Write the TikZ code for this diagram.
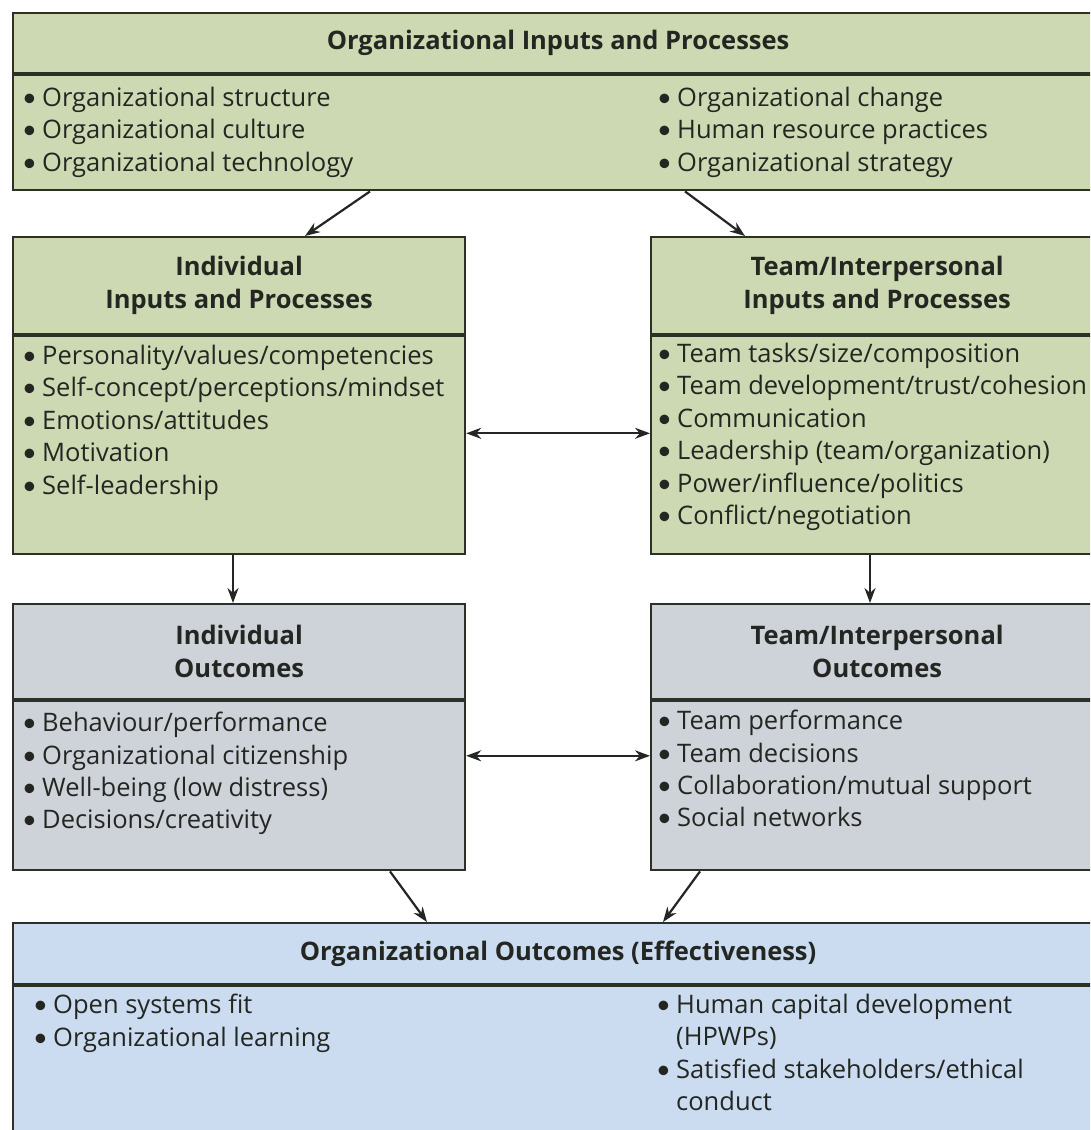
\documentclass[tikz,border=0pt]{standalone}
\usepackage{fontspec}
\setmainfont{Open Sans}
\newfontfamily\bulletfont{Lato}
\usetikzlibrary{arrows.meta}

\definecolor{edge}{HTML}{2B3126}
\definecolor{ink}{HTML}{232621}
\definecolor{inputgreen}{HTML}{CDD9B2}
\definecolor{outgray}{HTML}{CED2D9}
\definecolor{effblue}{HTML}{CBDBF0}

\newcommand{\itm}{\makebox[20pt][l]{\bulletfont\textbullet}}
\newcommand{\hang}{\hspace*{20pt}}

\tikzset{
  head/.style={draw=edge, line width=2.2pt, inner sep=0pt, anchor=north west,
    align=center, text=ink, font=\fontsize{25.5}{33}\selectfont\bfseries},
  body/.style={draw=edge, line width=2.2pt, inner sep=0pt, anchor=north west},
  items/.style={anchor=north west, inner sep=0pt, align=left, text=ink,
    font=\fontsize{25.5}{32.4}\selectfont},
  arr/.style={draw=ink, line width=2.2pt, -{Stealth[length=15pt,width=11pt]}},
  twoway/.style={draw=ink, line width=2.2pt, {Stealth[length=15pt,width=11pt]}-{Stealth[length=15pt,width=11pt]}}
}

\begin{document}
\begin{tikzpicture}[x=1pt, y=-1pt]
  \useasboundingbox (0,0) rectangle (1090,1130);
  \clip (0,0) rectangle (1090,1130);

  \node[head, fill=inputgreen, minimum width=1090pt, minimum height=60pt] (orgHead) at (12,12)
    {Organizational Inputs and Processes};
  \node[body, fill=inputgreen, minimum width=1090pt, minimum height=115pt] (orgBody) at (orgHead.south west) {};
  \node[items] (orgLeft) at (22,87) {\itm Organizational structure\\ \itm Organizational culture\\ \itm Organizational technology};
  \node[items] (orgRight) at (657,87) {\itm Organizational change\\ \itm Human resource practices\\ \itm Organizational strategy};

  \node[head, fill=inputgreen, minimum width=452pt, minimum height=97pt] (indHead) at (12,236)
    {Individual\\ Inputs and Processes};
  \node[body, fill=inputgreen, minimum width=452pt, minimum height=218pt] (indBody) at (indHead.south west) {};
  \node[items] (indList) at (22,345) {\itm Personality/values/competencies\\ \itm Self-concept/perceptions/mindset\\
    \itm Emotions/attitudes\\ \itm Motivation\\ \itm Self-leadership};

  \node[head, fill=inputgreen, minimum width=452pt, minimum height=97pt] (teamHead) at (650,236)
    {Team/Interpersonal\\ Inputs and Processes};
  \node[body, fill=inputgreen, minimum width=452pt, minimum height=218pt] (teamBody) at (teamHead.south west) {};
  \node[items] (teamList) at (657,343) {\itm Team tasks/size/composition\\ \itm Team development/trust/cohesion\\
    \itm Communication\\ \itm Leadership (team/organization)\\ \itm Power/influence/politics\\ \itm Conflict/negotiation};

  \node[head, fill=outgray, minimum width=452pt, minimum height=95pt] (indOutHead) at (12,603)
    {Individual\\ Outcomes};
  \node[body, fill=outgray, minimum width=452pt, minimum height=169pt] (indOutBody) at (indOutHead.south west) {};
  \node[items] (indOutList) at (22,712) {\itm Behaviour/performance\\ \itm Organizational citizenship\\
    \itm Well-being (low distress)\\ \itm Decisions/creativity};

  \node[head, fill=outgray, minimum width=452pt, minimum height=95pt] (teamOutHead) at (650,603)
    {Team/Interpersonal\\ Outcomes};
  \node[body, fill=outgray, minimum width=452pt, minimum height=169pt] (teamOutBody) at (teamOutHead.south west) {};
  \node[items] (teamOutList) at (657,710) {\itm Team performance\\ \itm Team decisions\\
    \itm Collaboration/mutual support\\ \itm Social networks};

  \node[head, fill=effblue, minimum width=1090pt, minimum height=61pt] (effHead) at (12,922)
    {Organizational Outcomes (Effectiveness)};
  \node[body, fill=effblue, minimum width=1090pt, minimum height=180pt] (effBody) at (effHead.south west) {};
  \node[items] (effLeft) at (33,994) {\itm Open systems fit\\ \itm Organizational learning};
  \node[items] (effRight) at (656,994) {\itm Human capital development\\ \hang(HPWPs)\\
    \itm Satisfied stakeholders/ethical\\ \hang conduct};

  \draw[arr] ([xshift=358pt]orgBody.south west) -- ([xshift=293pt]indHead.north west);
  \draw[arr] ([xshift=673pt]orgBody.south west) -- ([xshift=95pt]teamHead.north west);
  \draw[twoway] ([yshift=12pt]indBody.east) -- ([yshift=12pt]teamBody.west);
  \draw[arr] ([xshift=221pt]indBody.south west) -- ([xshift=221pt]indOutHead.north west);
  \draw[arr] ([xshift=220pt]teamBody.south west) -- ([xshift=220pt]teamOutHead.north west);
  \draw[twoway] ([yshift=30pt]indOutBody.east) -- ([yshift=30pt]teamOutBody.west);
  \draw[arr] ([xshift=378pt]indOutBody.south west) -- ([xshift=415pt]effHead.north west);
  \draw[arr] ([xshift=50pt]teamOutBody.south west) -- ([xshift=651pt]effHead.north west);
\end{tikzpicture}
\end{document}
